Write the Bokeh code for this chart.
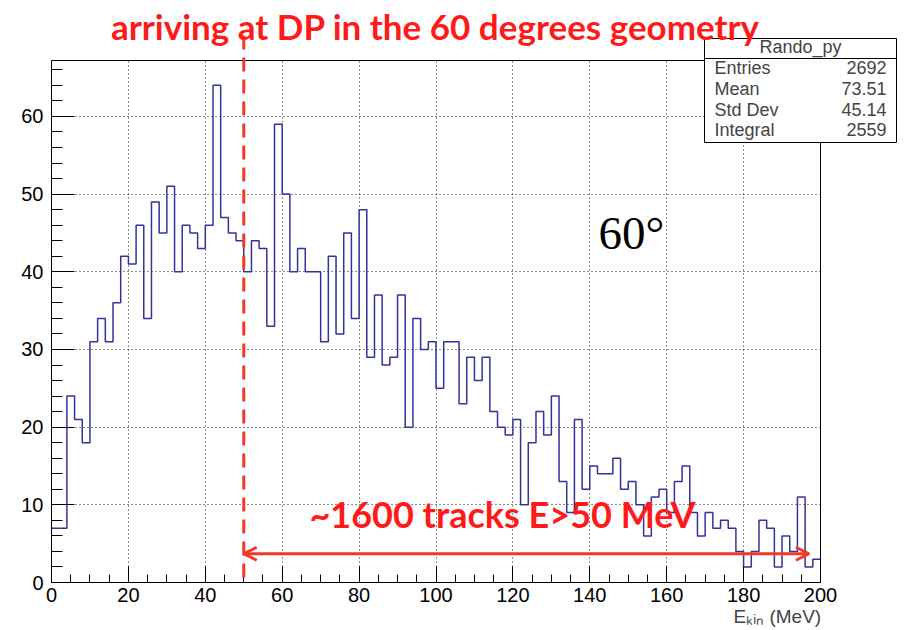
import numpy as np
from bokeh.plotting import figure
from bokeh.models import Arrow, OpenHead, Label, BoxAnnotation, Range1d, SingleIntervalTicker, Title
from bokeh.embed import file_html
from bokeh.resources import INLINE

# Kinetic energy histogram (2 MeV bins from 0 to 200 MeV)
bin_width = 2.0
counts = [
    7, 7, 24, 21, 18, 31, 34, 31, 36, 42,
    41, 46, 34, 49, 45, 51, 40, 46, 45, 43,
    46, 64, 47, 45, 44, 40, 44, 43, 33, 59,
    50, 40, 43, 40, 40, 31, 42, 32, 45, 34,
    48, 29, 37, 28, 29, 37, 20, 34, 30, 31,
    25, 31, 31, 23, 29, 26, 29, 22, 20, 19,
    21, 10, 18, 22, 19, 24, 13, 9, 21, 12,
    15, 14, 14, 16, 12, 13, 10, 6, 11, 12,
    9, 13, 15, 9, 6, 9, 7, 8, 7, 4,
    2, 4, 8, 7, 2, 6, 4, 11, 2, 3,
]
hist_name = "Rando_py"
stat_names = ["Entries", "Mean", "Std Dev", "Integral"]
stat_values = ["2692", "73.51", "45.14", "2559"]
x_ticks_step = 20
y_ticks_step = 10

cut_energy = 50.0
arrow_end = 197.0

edges = np.arange(len(counts) + 1) * bin_width
step_y = counts + [counts[-1]]

X_MAX = 200.0
Y_MAX = max(counts) * 1.05

# page geometry: the frame runs to the top and right edges so that the
# title, the cut line and the statistics box can sit around the histogram box
W, H = 906, 630
BL, BB = 51, 48
BOX_RIGHT_PX, BOX_TOP_PX = 820, 60
FRAME_BOTTOM_PX = H - BB
x_end = X_MAX * (W - BL) / (BOX_RIGHT_PX - BL)
y_end = Y_MAX * FRAME_BOTTOM_PX / (FRAME_BOTTOM_PX - BOX_TOP_PX)


def dx(px):
    """canvas column -> data x"""
    return (px - BL) * x_end / (W - BL)


def dy(py):
    """canvas row -> data y"""
    return (FRAME_BOTTOM_PX - py) * y_end / FRAME_BOTTOM_PX


p = figure(width=W, height=H, output_backend="svg", toolbar_location=None,
           x_range=Range1d(0, x_end), y_range=Range1d(0, y_end),
           min_border_left=BL, min_border_right=0, min_border_top=0,
           min_border_bottom=BB, background_fill_color="white",
           border_fill_color="white", title=None)
p.outline_line_color = None

# axes in the ROOT style: ticks inside the box
p.xaxis.ticker = SingleIntervalTicker(interval=x_ticks_step, num_minor_ticks=4)
p.yaxis.ticker = SingleIntervalTicker(interval=y_ticks_step, num_minor_ticks=5)
p.xaxis.bounds = (0, X_MAX)
p.yaxis.bounds = (0, Y_MAX)
for ax, maj, mnr in ((p.xaxis, 16, 8), (p.yaxis, 23, 11)):
    ax.major_tick_in = maj
    ax.major_tick_out = 0
    ax.minor_tick_in = mnr
    ax.minor_tick_out = 0
    ax.axis_line_color = "black"
    ax.major_tick_line_color = "black"
    ax.minor_tick_line_color = "black"
    ax.major_label_text_font = "Liberation Sans"
    ax.major_label_text_font_size = "20px"
    ax.major_label_text_color = "black"
p.xaxis.major_label_standoff = 5
p.yaxis.major_label_standoff = 8

for g in (p.xgrid, p.ygrid):
    g.grid_line_color = "black"
    g.grid_line_dash = "1 3"
    g.grid_line_width = 1
    g.grid_line_alpha = 0.9

# keep the dotted grid inside the histogram box
p.add_layout(BoxAnnotation(bottom=Y_MAX, fill_color="white", fill_alpha=1,
                           line_alpha=0, level="underlay"))
p.add_layout(BoxAnnotation(left=X_MAX, fill_color="white", fill_alpha=1,
                           line_alpha=0, level="underlay"))

# the histogram outline
p.step(edges, step_y, mode="after", line_color="#333399", line_width=1.5)

# box around the histogram
p.add_layout(BoxAnnotation(left=0, right=X_MAX, bottom=0, top=Y_MAX, fill_alpha=0,
                           line_color="black", line_width=1, line_alpha=1))

# x-axis title
p.add_layout(Title(text="E\u2096\u1d62\u2099 (MeV)", align="left", offset=733 - BL,
                   text_font="Liberation Sans", text_font_size="19px",
                   text_font_style="normal", standoff=-2), "below")

RED = "#ff1a1a"
ARROW_RED = "#f03a26"

# vertical dashed cut line at 50 MeV
p.add_layout(Arrow(end=None, x_start=cut_energy, y_start=dy(35), x_end=cut_energy, y_end=-5,
                   line_color=ARROW_RED, line_width=3, line_dash="14 8"))

# double arrow for the E > 50 MeV range
p.add_layout(Arrow(start=OpenHead(size=13, line_color=ARROW_RED, line_width=3),
                   end=OpenHead(size=13, line_color=ARROW_RED, line_width=3),
                   x_start=cut_energy, y_start=3.7, x_end=arrow_end, y_end=3.7,
                   line_color=ARROW_RED, line_width=3))

p.add_layout(Label(x=dx(502), y=dy(513), text="~1600 tracks E>50 MeV", text_align="center",
                   text_baseline="alphabetic",
                   text_font="Lato", text_font_style="bold", text_font_size="36px",
                   text_color=RED))

p.add_layout(Label(x=dx(598), y=dy(258), text="60°", text_align="left",
                   text_font="Liberation Serif", text_font_size="47px", text_color="black"))

# statistics box
p.add_layout(BoxAnnotation(left=dx(704), right=dx(896), top=dy(38), bottom=dy(142),
                           fill_color="white", fill_alpha=1, line_color="black",
                           line_width=1, line_alpha=1, level="overlay"))
p.add_layout(Arrow(end=None, x_start=dx(704), y_start=dy(58), x_end=dx(896), y_end=dy(58),
                   line_color="black", line_width=1, level="overlay"))
p.add_layout(Label(x=dx(800), y=dy(46), text=hist_name, text_align="center",
                   text_baseline="alphabetic",
                   text_font="Liberation Sans", text_font_size="18px", level="overlay"))
row_py = [67, 88, 109, 129]
for name, val, py in zip(stat_names, stat_values, row_py):
    p.add_layout(Label(x=dx(714), y=dy(py), text=name, text_align="left",
                       text_baseline="alphabetic",
                       text_font="Liberation Sans", text_font_size="18px", level="overlay"))
    p.add_layout(Label(x=dx(886), y=dy(py), text=val, text_align="right",
                       text_baseline="alphabetic",
                       text_font="Liberation Sans", text_font_size="18px", level="overlay"))

# title, drawn over the top edge of the statistics box
p.add_layout(Label(x=dx(435), y=dy(25), text="arriving at DP in the 60 degrees geometry",
                   text_align="center", text_baseline="alphabetic",
                   text_font="Lato", text_font_style="bold", text_font_size="35px",
                   text_color=RED, level="overlay"))

open("out.html", "w").write(file_html(p, INLINE))
